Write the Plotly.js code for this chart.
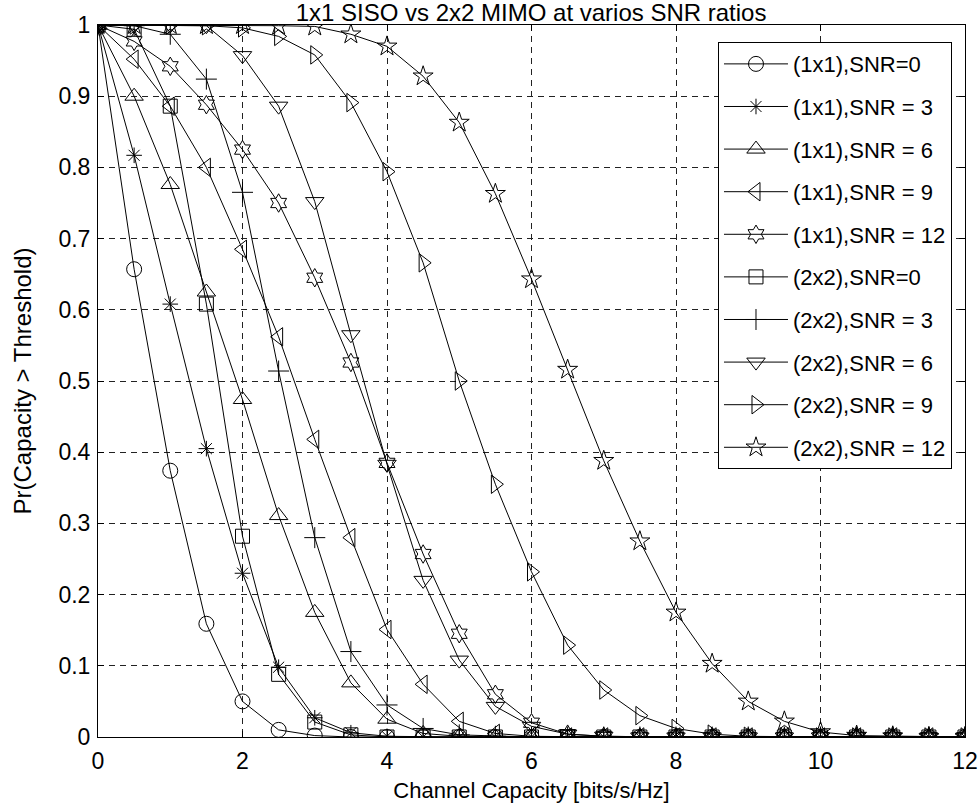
<!DOCTYPE html>
<html>
<head>
<meta charset="utf-8">
<script src="https://cdn.plot.ly/plotly-3.0.1.min.js"></script>
<style>html,body{margin:0;padding:0;background:#fff;}#chart{width:978px;height:805px;}</style>
</head>
<body>
<div id="chart"></div>
<script>
// Threshold capacity values (bits/s/Hz)
const capacity = [0,0.5,1,1.5,2,2.5,3,3.5,4,4.5,5,5.5,6,6.5,7,7.5,8,8.5,9,9.5,10,10.5,11,11.5,12];

const siso_snr0  = [1,0.657,0.374,0.159,0.05,0.01,0.002,0,0,0,0,0,0,0,0,0,0,0,0,0,0,0,0,0,0];
const siso_snr3  = [1,0.817,0.608,0.405,0.23,0.098,0.027,0.006,0.001,0,0,0,0,0,0,0,0,0,0,0,0,0,0,0,0];
const siso_snr6  = [1,0.90,0.776,0.625,0.474,0.311,0.175,0.076,0.025,0.005,0.001,0,0,0,0,0,0,0,0,0,0,0,0,0,0];
const siso_snr9  = [1,0.952,0.886,0.80,0.685,0.562,0.418,0.28,0.151,0.074,0.022,0.005,0.001,0,0,0,0,0,0,0,0,0,0,0,0];
const siso_snr12 = [1,0.977,0.942,0.888,0.825,0.75,0.645,0.526,0.385,0.257,0.145,0.06,0.02,0.004,0.001,0,0,0,0,0,0,0,0,0,0];

const mimo_snr0  = [1,0.994,0.886,0.608,0.282,0.088,0.021,0.003,0,0,0,0,0,0,0,0,0,0,0,0,0,0,0,0,0];
const mimo_snr3  = [1,0.999,0.987,0.924,0.765,0.514,0.28,0.12,0.045,0.012,0.003,0.001,0,0,0,0,0,0,0,0,0,0,0,0,0];
const mimo_snr6  = [1,1,1,0.999,0.957,0.886,0.752,0.565,0.383,0.22,0.108,0.043,0.015,0.004,0.001,0,0,0,0,0,0,0,0,0,0];
const mimo_snr9  = [1,1,1,0.999,0.996,0.984,0.958,0.891,0.794,0.666,0.50,0.355,0.232,0.129,0.066,0.03,0.012,0.004,0.001,0,0,0,0,0,0];
const mimo_snr12 = [1,1,1,1,1,0.999,0.998,0.987,0.970,0.928,0.863,0.763,0.643,0.516,0.388,0.275,0.175,0.103,0.05,0.022,0.007,0.002,0.001,0,0];

const seriesNames = ["(1x1),SNR=0","(1x1),SNR = 3","(1x1),SNR = 6","(1x1),SNR = 9","(1x1),SNR = 12",
                     "(2x2),SNR=0","(2x2),SNR = 3","(2x2),SNR = 6","(2x2),SNR = 9","(2x2),SNR = 12"];
const seriesValues = [siso_snr0,siso_snr3,siso_snr6,siso_snr9,siso_snr12,
                      mimo_snr0,mimo_snr3,mimo_snr6,mimo_snr9,mimo_snr12];
const symbols = ["circle-open","asterisk-open","triangle-up-open","triangle-left-open","hexagram-open",
                 "square-open","cross-thin-open","triangle-down-open","triangle-right-open","star-open"];
const sizes = [15,13,16,16,14,14,15,16,16,15];

const traces = seriesValues.map((vals,i)=>({
  type:'scatter', mode:'lines+markers',
  x: capacity, y: vals, name: seriesNames[i],
  legendgroup: 'g'+i,
  line:{color:'#000', width:1},
  marker:{symbol:symbols[i], size:sizes[i], color:'#000', line:{color:'#000', width:1}}
}));

const FONT = '"Liberation Sans", Arial, Helvetica, sans-serif';
const layout = {
  width:978, height:805,
  paper_bgcolor:'#fff', plot_bgcolor:'#fff',
  margin:{l:98, r:13, t:25, b:68},
  font:{family:FONT, color:'#000', size:20},
  title:{text:'1x1 SISO vs 2x2 MIMO at varios SNR ratios', x:0.543, xanchor:'center', y:0.9845, yanchor:'middle', font:{size:24, family:FONT, color:'#000'}},
  xaxis:{range:[0,12], dtick:2, tick0:0, showline:true, linecolor:'#000', linewidth:1, mirror:'ticks',
    ticks:'inside', ticklen:6, tickcolor:'#000', showgrid:true, gridcolor:'#222', griddash:'6px,5px', gridwidth:1,
    zeroline:false, tickfont:{size:23}, ticklabelstandoff:3,
    title:{text:'Channel Capacity [bits/s/Hz]', font:{size:22}, standoff:10}},
  yaxis:{range:[0,1], dtick:0.1, tick0:0, showline:true, linecolor:'#000', linewidth:1, mirror:'ticks',
    ticks:'inside', ticklen:6, tickcolor:'#000', showgrid:true, gridcolor:'#222', griddash:'6px,5px', gridwidth:1,
    zeroline:false, tickfont:{size:23}, ticklabelstandoff:2,
    title:{text:'Pr(Capacity > Threshold)', font:{size:24}, standoff:20}},
  legend:{x:0.985, xanchor:'right', y:0.976, yanchor:'top', bgcolor:'#fff', bordercolor:'#000', borderwidth:1,
    font:{size:22}, tracegroupgap:11, itemwidth:64},
  showlegend:true
};

Plotly.newPlot('chart', traces, layout, {displayModeBar:false, staticPlot:true});
</script>
</body>
</html>
